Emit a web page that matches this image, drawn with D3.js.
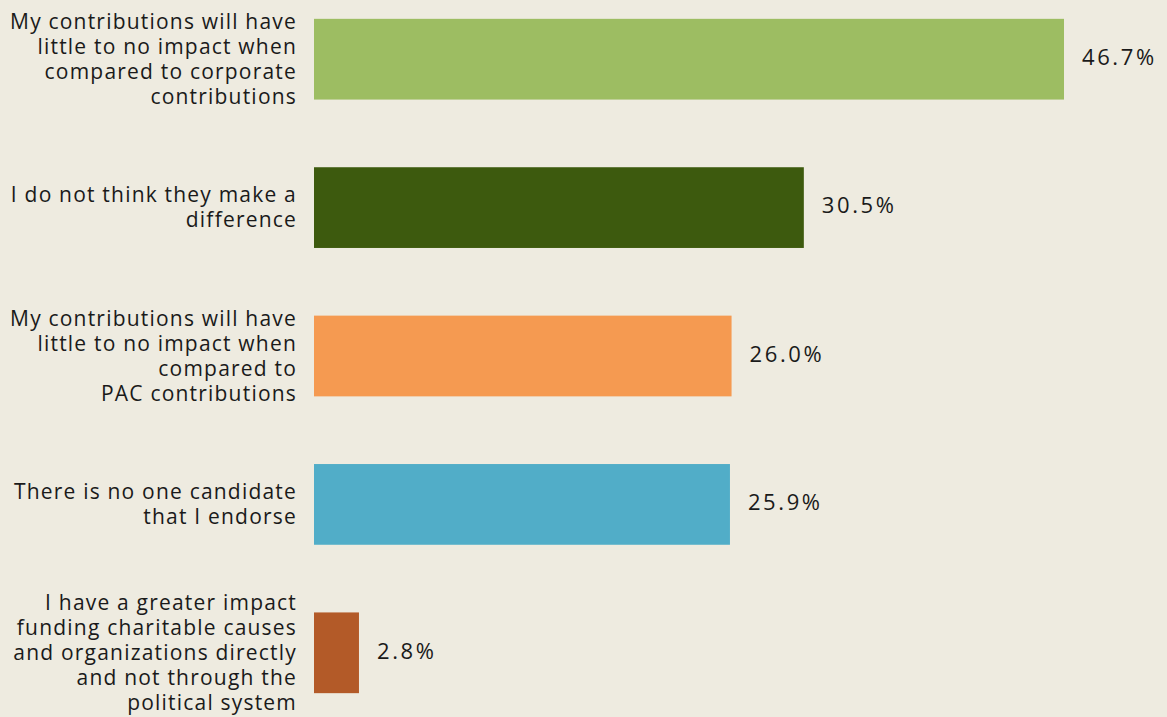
<!DOCTYPE html>
<html>
<head>
<meta charset="utf-8">
<script src="https://cdn.jsdelivr.net/npm/d3@7"></script>
<style>
  body { margin: 0; background: #eeebe0; }
  svg { display: block; }
  .cat { font-family: "Open Sans", sans-serif; font-size: 21px; fill: #1a1a1a; letter-spacing: 1.2px; }
  .val { font-family: "Open Sans", sans-serif; font-size: 22px; fill: #1a1a1a; letter-spacing: 2.6px; }
</style>
</head>
<body>
<div id="chart"></div>
<script>
// categories, one array of lines each
var categories = [
  ["My contributions will have", "little to no impact when", "compared to corporate", "contributions"],
  ["I do not think they make a", "difference"],
  ["My contributions will have", "little to no impact when", "compared to", "PAC contributions"],
  ["There is no one candidate", "that I endorse"],
  ["I have a greater impact", "funding charitable causes", "and organizations directly", "and not through the", "political system"]
];
var values = [46.7, 30.5, 26.0, 25.9, 2.8];
var colors = ["#9dbd62", "#3d5a0e", "#f59a51", "#51adc8", "#b35a28"];

var W = 1167, H = 717;
var left = 314;

var svg = d3.select("#chart").append("svg")
  .attr("width", W).attr("height", H);

svg.append("rect").attr("width", W).attr("height", H).attr("fill", "#eeebe0");

var x = d3.scaleLinear().domain([0, 46.7]).range([left, 1064]);
var y = d3.scaleBand().domain(d3.range(values.length))
  .range([-15, 727]).paddingInner(0.456).paddingOuter(0.228);

var g = svg.append("g");

g.selectAll("rect.bar")
  .data(values)
  .enter()
  .append("rect")
  .attr("class", "bar")
  .attr("x", x(0))
  .attr("y", function(d, i) { return y(i); })
  .attr("width", function(d) { return x(d) - x(0); })
  .attr("height", y.bandwidth())
  .attr("fill", function(d, i) { return colors[i]; });

g.selectAll("text.val")
  .data(values)
  .enter()
  .append("text")
  .attr("class", "val")
  .attr("x", function(d) { return x(d) + 18; })
  .attr("y", function(d, i) { return y(i) + y.bandwidth() / 2; })
  .attr("dy", "0.26em")
  .text(function(d) { return d.toFixed(1) + "%"; });

// category labels, right aligned
var lineH = 25;
categories.forEach(function(lines, i) {
  var cy = y(i) + y.bandwidth() / 2;
  var t = g.append("text")
    .attr("class", "cat")
    .attr("text-anchor", "end");
  lines.forEach(function(l, j) {
    t.append("tspan")
      .attr("x", 297)
      .attr("y", cy + (j - (lines.length - 1) / 2) * lineH)
      .attr("dy", "0.35em")
      .text(l);
  });
});
</script>
</body>
</html>
